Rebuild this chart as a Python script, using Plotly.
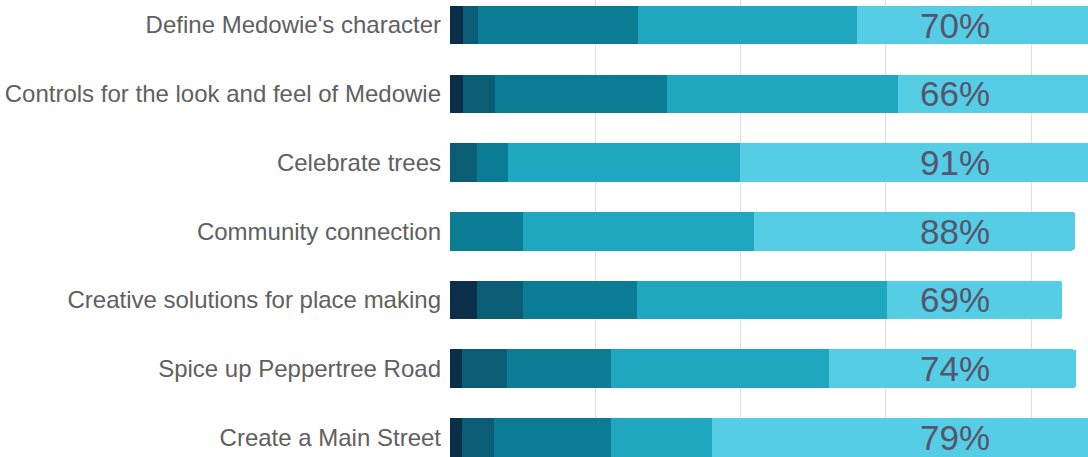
import plotly.graph_objects as go

categories = [
    "Define Medowie's character",
    "Controls for the look and feel of Medowie",
    "Celebrate trees",
    "Community connection",
    "Creative solutions for place making",
    "Spice up Peppertree Road",
    "Create a Main Street",
]
strongly_disagree = [1.8, 1.8, 0.0, 0.0, 3.7, 1.7, 1.7]
disagree = [2.1, 4.4, 3.7, 0.0, 6.3, 6.2, 4.3]
neutral = [22.0, 23.7, 4.3, 10.0, 15.8, 14.2, 16.1]
agree = [30.1, 31.7, 31.9, 31.9, 34.3, 30.0, 14.0]
strongly_agree = [44.0, 38.4, 60.1, 44.1, 24.1, 34.1, 63.9]
support_labels = ["70%", "66%", "91%", "88%", "69%", "74%", "79%"]

series = [
    ("Strongly disagree", strongly_disagree, "#0b2f48"),
    ("Disagree", disagree, "#0b5d76"),
    ("Neutral", neutral, "#0a7d94"),
    ("Agree", agree, "#1fa7c0"),
    ("Strongly agree", strongly_agree, "#55cde4"),
]

fig = go.Figure()
for name, vals, col in series:
    fig.add_trace(go.Bar(
        y=categories, x=vals, orientation="h", name=name,
        marker=dict(color=col, line=dict(width=0)),
        hoverinfo="skip",
    ))

for cat, lab in zip(categories, support_labels):
    fig.add_annotation(
        x=69.5, y=cat, xref="x", yref="y", text=lab, showarrow=False,
        xanchor="center", yanchor="middle",
        font=dict(family="Liberation Sans, Arial, sans-serif", size=35, color="#55566e"),
    )

n = len(categories)
fig.update_layout(
    width=1088, height=457,
    margin=dict(l=450, r=0, t=0, b=0),
    barmode="stack",
    bargap=0.44,
    barcornerradius=3,
    showlegend=False,
    paper_bgcolor="white",
    plot_bgcolor="white",
    font=dict(family="Liberation Sans, Arial, sans-serif", size=24, color="#606060"),
)
fig.update_xaxes(
    range=[0, 87.8], dtick=20, showgrid=True, gridcolor="#dedede", gridwidth=1,
    zeroline=False, showline=False, showticklabels=False, ticks="",
)
fig.update_yaxes(
    categoryorder="array", categoryarray=categories,
    range=[n - 1 + 0.284, -0.364],
    showgrid=False, zeroline=False, showline=False, ticks="",
    ticklabelstandoff=8,
)

fig.write_html(
    "out.html",
    config={"displayModeBar": False},
    post_script="document.body.style.margin='0';document.body.style.overflow='hidden';",
)
